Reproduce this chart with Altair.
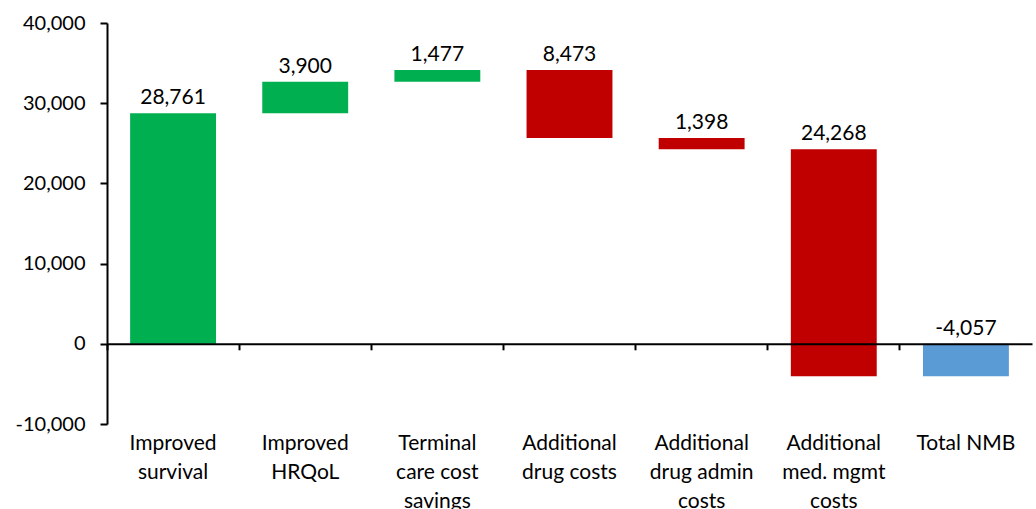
import altair as alt
import pandas as pd

categories = ["Improved|survival", "Improved|HRQoL", "Terminal|care cost|savings",
              "Additional|drug costs", "Additional|drug admin|costs",
              "Additional|med. mgmt|costs", "Total NMB"]
bar_start = [0, 28761, 32661, 34138, 25665, 24267, 0]
bar_end = [28761, 32661, 34138, 25665, 24267, -4057, -4057]
label_values = [28761, 3900, 1477, 8473, 1398, 24268, -4057]
colors = ["#00B050", "#00B050", "#00B050", "#C00000", "#C00000", "#C00000", "#5B9BD5"]
y_ticks = [-10000, 0, 10000, 20000, 30000, 40000]

df = pd.DataFrame({
    "cat": categories,
    "start": bar_start,
    "end": bar_end,
    "top": [max(a, b) for a, b in zip(bar_start, bar_end)],
    "label": [f"{v:,}" for v in label_values],
    "color": colors,
})

W, H = 925, 401
FONT = "Lato"
xscale = alt.Scale(domain=categories, paddingInner=0, paddingOuter=0)
yscale = alt.Scale(domain=[-10000, 40000], nice=False, zero=False)
yaxis = alt.Axis(values=y_ticks, grid=False, domainColor="#000", domainWidth=2,
                 tickColor="#000", tickWidth=2, tickSize=7, labelPadding=15,
                 labelFontSize=20, labelFont=FONT, labelColor="#000", title=None,
                 labelExpr="datum.value < 0 ? '-' + format(abs(datum.value), ',') : format(datum.value, ',')")

bars = alt.Chart(df).mark_bar(width={"band": 0.65}).encode(
    x=alt.X("cat:N", sort=categories, scale=xscale, title=None,
            axis=alt.Axis(orient="bottom", domain=False, ticks=False, labelAngle=0,
                          labelExpr="split(datum.label, '|')", labelFontSize=21,
                          labelFont=FONT, labelColor="#000", labelLineHeight=29,
                          labelPadding=8, labelBaseline="top")),
    y=alt.Y("start:Q", scale=yscale, title=None, axis=yaxis),
    y2="end:Q",
    color=alt.Color("color:N", scale=None),
)

text = alt.Chart(df).mark_text(baseline="bottom", dy=-5, fontSize=21, font=FONT, color="#000").encode(
    x=alt.X("cat:N", sort=categories, scale=xscale, axis=None),
    y=alt.Y("top:Q", scale=yscale, title=None, axis=yaxis),
    text="label:N",
)

zero_axis = alt.Chart(df).mark_tick(opacity=0).encode(
    x=alt.X("cat:N", sort=categories, scale=xscale, title=None,
            axis=alt.Axis(orient="bottom", offset=-H / 5, labels=False, domain=True,
                          domainColor="#000", domainWidth=2, ticks=True, tickColor="#000",
                          tickWidth=2, tickSize=6, bandPosition=0, zindex=2)),
    y=alt.Y("start:Q", scale=yscale, title=None, axis=yaxis),
)

chart = alt.layer(bars, text, zero_axis).resolve_axis(x="independent").properties(
    width=W, height=H,
    padding={"left": 107, "top": 23, "right": 4, "bottom": 85},
    autosize=alt.AutoSizeParams(type="none"),
).configure_view(stroke=None)

chart.save("out.html", embed_options={"renderer": "svg", "actions": False})
